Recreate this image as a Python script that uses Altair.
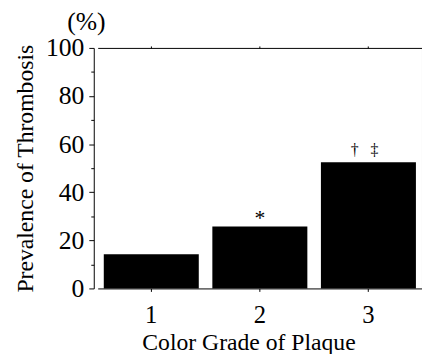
import altair as alt
import pandas as pd

# ---- data ----
grades = ["1", "2", "3"]
prevalence = [14.2, 25.8, 52.5]
star_grades = ["2"]
star_labels = ["*"]
dagger_grades = ["3"]
dagger_labels = ["\u2020\u00a0\u00a0\u00a0\u2021"]
y_ticks = list(range(0, 101, 10))

FONT = "Liberation Serif"

bars_df = pd.DataFrame({"grade": grades, "value": prevalence})
lookup = dict(zip(grades, prevalence))
star_df = pd.DataFrame({"grade": star_grades,
                        "value": [lookup[g] for g in star_grades],
                        "label": star_labels})
dagger_df = pd.DataFrame({"grade": dagger_grades,
                          "value": [lookup[g] for g in dagger_grades],
                          "label": dagger_labels})

xs = alt.Scale(domain=grades, paddingInner=0.125, paddingOuter=0.056)
ys = alt.Scale(domain=[0, 100], nice=False)

major = "datum.value % 20 == 0"

bars = alt.Chart(bars_df).mark_bar(color="black").encode(
    x=alt.X("grade:N", scale=xs, sort=grades,
            axis=alt.Axis(orient="bottom", title="Color Grade of Plaque",
                          labelAngle=0, labelFontSize=25,
                          labelColor="black", labelPadding=12,
                          tickSize=3, tickColor="black", domainColor="black",
                          titleFontSize=24, titleFontWeight="normal",
                          titleColor="black", titlePadding=3, titleX=153)),
    y=alt.Y("value:Q", scale=ys,
            axis=alt.Axis(orient="left", values=y_ticks, offset=4,
                          labelExpr=f"{major} ? datum.label : ''",
                          tickSize={"condition": {"test": major, "value": 5}, "value": 3},
                          tickColor="black", domainColor="black", grid=False,
                          labelFontSize=26, labelColor="black",
                          labelPadding=5,
                          title="Prevalence of Thrombosis",
                          titleFontSize=24, titleFontWeight="normal",
                          titleColor="black", titlePadding=8)),
)

stars = alt.Chart(star_df).mark_text(fontSize=22, color="black",
                                     baseline="alphabetic", dy=-1).encode(
    x=alt.X("grade:N", scale=xs, sort=grades,
            axis=alt.Axis(orient="top", labels=False, title=None, tickSize=2,
                          tickColor="black", domainColor="black")),
    y=alt.Y("value:Q", scale=ys,
            axis=alt.Axis(orient="right", labels=False, title=None, values=y_ticks,
                          tickSize=2, tickColor="black", domainColor="black",
                          grid=False)),
    text="label:N",
)

daggers = alt.Chart(dagger_df).mark_text(fontSize=16, color="black",
                                         baseline="alphabetic", dy=-7, dx=-4).encode(
    x=alt.X("grade:N", scale=xs, sort=grades, axis=None),
    y=alt.Y("value:Q", scale=ys, axis=None),
    text="label:N",
)

chart = alt.layer(bars, stars, daggers).resolve_axis(
    x="independent", y="independent"
).properties(
    width=329, height=244,
    autosize=alt.AutoSizeParams(type="none"),
    padding={"left": 91, "top": 38, "right": 0, "bottom": 64},
    title=alt.Title("(%)", anchor="start", frame="group",
                    fontSize=26, fontWeight="normal", color="black",
                    dx=-31, offset=0),
).configure(
    background="white", font=FONT
).configure_view(stroke=None).configure_axis(
    labelFont=FONT, titleFont=FONT
).configure_title(font=FONT).configure_text(font=FONT)

chart.save("out.html", embed_options={"renderer": "svg", "actions": False})
